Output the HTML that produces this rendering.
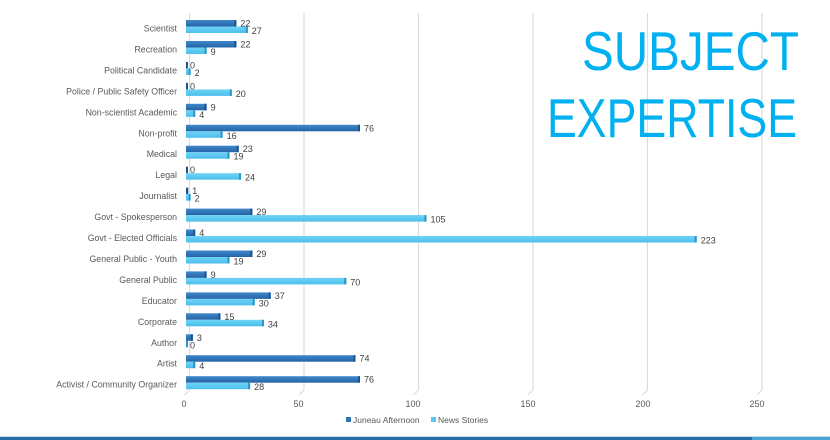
<!DOCTYPE html>
<html><head><meta charset="utf-8"><style>
html,body{margin:0;padding:0;background:#fff;}
svg{display:block;}
text{font-family:"Liberation Sans",sans-serif;}
.c{font-size:8.8px;fill:#595959;text-anchor:end;}
.v{font-size:9px;fill:#404040;}
</style></head><body>
<svg width="830" height="440" viewBox="0 0 830 440" xmlns="http://www.w3.org/2000/svg">
<defs>
<linearGradient id="gd" x1="0" y1="0" x2="0" y2="1"><stop offset="0" stop-color="#3f88cb"/><stop offset="1" stop-color="#2563a6"/></linearGradient>
<linearGradient id="gl" x1="0" y1="0" x2="0" y2="1"><stop offset="0" stop-color="#6fd3f6"/><stop offset="1" stop-color="#4cbfeb"/></linearGradient>
</defs>
<rect width="830" height="440" fill="#fff"/>
<g stroke="#dcdcdc" stroke-width="1.2" fill="none">
<path d="M189.5 13 V390 L184.5 395"/>
<path d="M304 13 V390 L299 395"/>
<path d="M418.5 13 V390 L413.5 395"/>
<path d="M533 13 V390 L528 395"/>
<path d="M647.5 13 V390 L642.5 395"/>
<path d="M762 13 V390 L757 395"/>
</g>
<text x="582" y="70" font-size="55" fill="#00b0f0" textLength="217" lengthAdjust="spacingAndGlyphs">SUBJECT</text>
<text x="547" y="137" font-size="55" fill="#00b0f0" textLength="250" lengthAdjust="spacingAndGlyphs">EXPERTISE</text>

<g transform="translate(0,20)">
<text x="177" y="11.5" class="c">Scientist</text>
<rect x="186" y="0" width="50.4" height="6.5" fill="url(#gd)"/><rect x="234.4" y="0" width="2" height="6.5" fill="#1d5290"/>
<rect x="186" y="6.5" width="61.8" height="6.5" fill="url(#gl)"/><rect x="245.8" y="6.5" width="2" height="6.5" fill="#2a94c4"/>
<text x="240.4" y="6.5" class="v">22</text><text x="251.8" y="14" class="v">27</text>
</g>
<g transform="translate(0,41)">
<text x="177" y="11.5" class="c">Recreation</text>
<rect x="186" y="0" width="50.4" height="6.5" fill="url(#gd)"/><rect x="234.4" y="0" width="2" height="6.5" fill="#1d5290"/>
<rect x="186" y="6.5" width="20.6" height="6.5" fill="url(#gl)"/><rect x="204.6" y="6.5" width="2" height="6.5" fill="#2a94c4"/>
<text x="240.4" y="6.5" class="v">22</text><text x="210.6" y="14" class="v">9</text>
</g>
<g transform="translate(0,61.9)">
<text x="177" y="11.5" class="c">Political Candidate</text>
<rect x="186" y="0" width="2" height="6.5" fill="#1d5290"/>
<rect x="186" y="6.5" width="4.6" height="6.5" fill="url(#gl)"/><rect x="188.6" y="6.5" width="2" height="6.5" fill="#2a94c4"/>
<text x="190" y="6.5" class="v">0</text><text x="194.6" y="14" class="v">2</text>
</g>
<g transform="translate(0,82.9)">
<text x="177" y="11.5" class="c">Police / Public Safety Officer</text>
<rect x="186" y="0" width="2" height="6.5" fill="#1d5290"/>
<rect x="186" y="6.5" width="45.8" height="6.5" fill="url(#gl)"/><rect x="229.8" y="6.5" width="2" height="6.5" fill="#2a94c4"/>
<text x="190" y="6.5" class="v">0</text><text x="235.8" y="14" class="v">20</text>
</g>
<g transform="translate(0,103.8)">
<text x="177" y="11.5" class="c">Non-scientist Academic</text>
<rect x="186" y="0" width="20.6" height="6.5" fill="url(#gd)"/><rect x="204.6" y="0" width="2" height="6.5" fill="#1d5290"/>
<rect x="186" y="6.5" width="9.2" height="6.5" fill="url(#gl)"/><rect x="193.2" y="6.5" width="2" height="6.5" fill="#2a94c4"/>
<text x="210.6" y="6.5" class="v">9</text><text x="199.2" y="14" class="v">4</text>
</g>
<g transform="translate(0,124.8)">
<text x="177" y="11.5" class="c">Non-profit</text>
<rect x="186" y="0" width="174" height="6.5" fill="url(#gd)"/><rect x="358" y="0" width="2" height="6.5" fill="#1d5290"/>
<rect x="186" y="6.5" width="36.6" height="6.5" fill="url(#gl)"/><rect x="220.6" y="6.5" width="2" height="6.5" fill="#2a94c4"/>
<text x="364" y="6.5" class="v">76</text><text x="226.6" y="14" class="v">16</text>
</g>
<g transform="translate(0,145.7)">
<text x="177" y="11.5" class="c">Medical</text>
<rect x="186" y="0" width="52.7" height="6.5" fill="url(#gd)"/><rect x="236.7" y="0" width="2" height="6.5" fill="#1d5290"/>
<rect x="186" y="6.5" width="43.5" height="6.5" fill="url(#gl)"/><rect x="227.5" y="6.5" width="2" height="6.5" fill="#2a94c4"/>
<text x="242.7" y="6.5" class="v">23</text><text x="233.5" y="14" class="v">19</text>
</g>
<g transform="translate(0,166.7)">
<text x="177" y="11.5" class="c">Legal</text>
<rect x="186" y="0" width="2" height="6.5" fill="#1d5290"/>
<rect x="186" y="6.5" width="55" height="6.5" fill="url(#gl)"/><rect x="239" y="6.5" width="2" height="6.5" fill="#2a94c4"/>
<text x="190" y="6.5" class="v">0</text><text x="245" y="14" class="v">24</text>
</g>
<g transform="translate(0,187.6)">
<text x="177" y="11.5" class="c">Journalist</text>
<rect x="186" y="0" width="2.3" height="6.5" fill="#1d5290"/>
<rect x="186" y="6.5" width="4.6" height="6.5" fill="url(#gl)"/><rect x="188.6" y="6.5" width="2" height="6.5" fill="#2a94c4"/>
<text x="192.3" y="6.5" class="v">1</text><text x="194.6" y="14" class="v">2</text>
</g>
<g transform="translate(0,208.6)">
<text x="177" y="11.5" class="c">Govt - Spokesperson</text>
<rect x="186" y="0" width="66.4" height="6.5" fill="url(#gd)"/><rect x="250.4" y="0" width="2" height="6.5" fill="#1d5290"/>
<rect x="186" y="6.5" width="240.5" height="6.5" fill="url(#gl)"/><rect x="424.5" y="6.5" width="2" height="6.5" fill="#2a94c4"/>
<text x="256.4" y="6.5" class="v">29</text><text x="430.5" y="14" class="v">105</text>
</g>
<g transform="translate(0,229.5)">
<text x="177" y="11.5" class="c">Govt - Elected Officials</text>
<rect x="186" y="0" width="9.2" height="6.5" fill="url(#gd)"/><rect x="193.2" y="0" width="2" height="6.5" fill="#1d5290"/>
<rect x="186" y="6.5" width="510.7" height="6.5" fill="url(#gl)"/><rect x="694.7" y="6.5" width="2" height="6.5" fill="#2a94c4"/>
<text x="199.2" y="6.5" class="v">4</text><text x="700.7" y="14" class="v">223</text>
</g>
<g transform="translate(0,250.5)">
<text x="177" y="11.5" class="c">General Public - Youth</text>
<rect x="186" y="0" width="66.4" height="6.5" fill="url(#gd)"/><rect x="250.4" y="0" width="2" height="6.5" fill="#1d5290"/>
<rect x="186" y="6.5" width="43.5" height="6.5" fill="url(#gl)"/><rect x="227.5" y="6.5" width="2" height="6.5" fill="#2a94c4"/>
<text x="256.4" y="6.5" class="v">29</text><text x="233.5" y="14" class="v">19</text>
</g>
<g transform="translate(0,271.4)">
<text x="177" y="11.5" class="c">General Public</text>
<rect x="186" y="0" width="20.6" height="6.5" fill="url(#gd)"/><rect x="204.6" y="0" width="2" height="6.5" fill="#1d5290"/>
<rect x="186" y="6.5" width="160.3" height="6.5" fill="url(#gl)"/><rect x="344.3" y="6.5" width="2" height="6.5" fill="#2a94c4"/>
<text x="210.6" y="6.5" class="v">9</text><text x="350.3" y="14" class="v">70</text>
</g>
<g transform="translate(0,292.4)">
<text x="177" y="11.5" class="c">Educator</text>
<rect x="186" y="0" width="84.7" height="6.5" fill="url(#gd)"/><rect x="268.7" y="0" width="2" height="6.5" fill="#1d5290"/>
<rect x="186" y="6.5" width="68.7" height="6.5" fill="url(#gl)"/><rect x="252.7" y="6.5" width="2" height="6.5" fill="#2a94c4"/>
<text x="274.7" y="6.5" class="v">37</text><text x="258.7" y="14" class="v">30</text>
</g>
<g transform="translate(0,313.3)">
<text x="177" y="11.5" class="c">Corporate</text>
<rect x="186" y="0" width="34.4" height="6.5" fill="url(#gd)"/><rect x="218.4" y="0" width="2" height="6.5" fill="#1d5290"/>
<rect x="186" y="6.5" width="77.9" height="6.5" fill="url(#gl)"/><rect x="261.9" y="6.5" width="2" height="6.5" fill="#2a94c4"/>
<text x="224.4" y="6.5" class="v">15</text><text x="267.9" y="14" class="v">34</text>
</g>
<g transform="translate(0,334.3)">
<text x="177" y="11.5" class="c">Author</text>
<rect x="186" y="0" width="6.9" height="6.5" fill="url(#gd)"/><rect x="190.9" y="0" width="2" height="6.5" fill="#1d5290"/>
<rect x="186" y="6.5" width="2" height="6.5" fill="#2a94c4"/>
<text x="196.9" y="6.5" class="v">3</text><text x="190" y="14" class="v">0</text>
</g>
<g transform="translate(0,355.2)">
<text x="177" y="11.5" class="c">Artist</text>
<rect x="186" y="0" width="169.5" height="6.5" fill="url(#gd)"/><rect x="353.5" y="0" width="2" height="6.5" fill="#1d5290"/>
<rect x="186" y="6.5" width="9.2" height="6.5" fill="url(#gl)"/><rect x="193.2" y="6.5" width="2" height="6.5" fill="#2a94c4"/>
<text x="359.5" y="6.5" class="v">74</text><text x="199.2" y="14" class="v">4</text>
</g>
<g transform="translate(0,376.2)">
<text x="177" y="11.5" class="c">Activist / Community Organizer</text>
<rect x="186" y="0" width="174" height="6.5" fill="url(#gd)"/><rect x="358" y="0" width="2" height="6.5" fill="#1d5290"/>
<rect x="186" y="6.5" width="64.1" height="6.5" fill="url(#gl)"/><rect x="248.1" y="6.5" width="2" height="6.5" fill="#2a94c4"/>
<text x="364" y="6.5" class="v">76</text><text x="254.1" y="14" class="v">28</text>
</g>

<g font-size="9" fill="#595959" text-anchor="middle">
<text x="184" y="407">0</text><text x="298.5" y="407">50</text><text x="413" y="407">100</text><text x="528" y="407">150</text><text x="643" y="407">200</text><text x="757" y="407">250</text>
</g>
<rect x="346" y="417" width="5" height="5" fill="#2e75b6"/>
<text x="353" y="423" font-size="8.5" fill="#595959">Juneau Afternoon</text>
<rect x="431" y="417" width="5" height="5" fill="#5bc8f0"/>
<text x="438" y="423" font-size="8.5" fill="#595959">News Stories</text>
<rect x="0" y="436" width="830" height="1" fill="#c9dbe8"/>
<rect x="0" y="437" width="830" height="3" fill="#2a6da6"/>
<rect x="752" y="437" width="78" height="3" fill="#45a6d6"/>
</svg>
</body></html>
